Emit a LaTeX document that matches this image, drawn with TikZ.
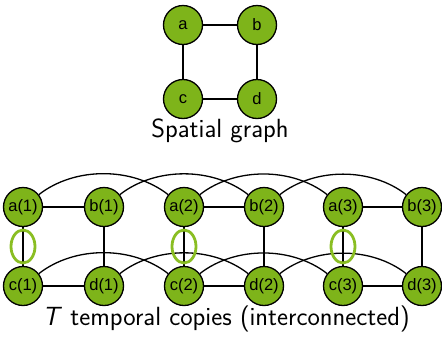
\documentclass[tikz,border=0pt]{standalone}
\usepackage{fontspec}
\usetikzlibrary{shapes.geometric}
\newfontfamily\labelfont{Liberation Sans}
\definecolor{nodegreen}{RGB}{126,180,26}
\definecolor{ringgreen}{RGB}{138,190,34}
\begin{document}
\begin{tikzpicture}[x=1pt,y=-1pt,
  vert/.style={circle,draw=black,line width=1.3pt,fill=nodegreen,
    minimum size=39pt,inner sep=0pt,font=\labelfont\fontsize{16.5}{16.5}\selectfont},
  edge/.style={line width=1.3pt},
  arcedge/.style={line width=1.3pt,out=38,in=142,looseness=0.9},
  ring/.style={draw=ringgreen,line width=2.8pt,ellipse,minimum width=24pt,minimum height=33pt,inner sep=0pt},
  caption/.style={font=\sffamily\fontsize{26.3}{27}\selectfont}]
\useasboundingbox (0,0) rectangle (442,338);

% spatial graph
\node[vert] (a) at (183,25) {a};
\node[vert] (b) at (257,25) {b};
\node[vert] (c) at (183,99) {c};
\node[vert] (d) at (257,99) {d};
\draw[edge] (a) -- (b) (b) -- (d) (d) -- (c) (c) -- (a);
\node[caption] (cap1) at (220,131) {Spatial graph};

% temporal copies
\foreach \t/\xa/\xb in {1/23/104, 2/184/264, 3/343/422} {
  \node[vert] (a\t) at (\xa,207) {a(\t)};
  \node[vert] (b\t) at (\xb,207) {b(\t)};
  \node[vert] (c\t) at (\xa,286) {c(\t)};
  \node[vert] (d\t) at (\xb,286) {d(\t)};
}
% arcs linking each copy with the next one
\foreach \s/\t in {1/2, 2/3} {
  \draw[arcedge] (a\s) to (a\t);
  \draw[arcedge] (b\s) to (b\t);
  \draw[arcedge] (c\s) to (c\t);
  \draw[arcedge] (d\s) to (d\t);
}
\foreach \t in {1,2,3} {
  \draw[edge] (a\t) -- (b\t) (c\t) -- (d\t) (a\t) -- (c\t) (b\t) -- (d\t);
  \path (a\t) -- (c\t) node[midway,ring] (r\t) {};
}
\node[caption] (cap2) at (226,319) {\textsl{T} temporal copies (interconnected)};
\end{tikzpicture}
\end{document}
